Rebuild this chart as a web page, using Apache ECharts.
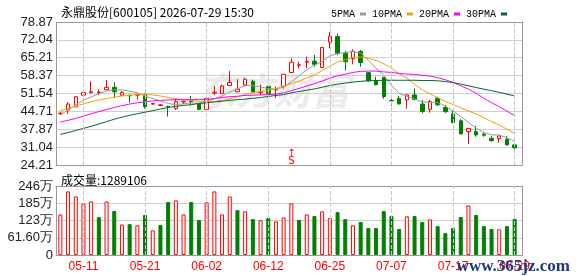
<!DOCTYPE html>
<html><head><meta charset="utf-8">
<script src="https://cdn.jsdelivr.net/npm/echarts@6/dist/echarts.min.js"></script>
<style>html,body{margin:0;padding:0;background:#fff}#c{width:578px;height:276px}</style>
</head><body><div id="c"></div>
<script>
const dates = ['05-06','05-07','05-08','05-11','05-12','05-13','05-14','05-15','05-18','05-19',
  '05-20','05-21','05-22','05-25','05-26','05-27','05-28','05-29','06-01','06-02',
  '06-03','06-04','06-05','06-08','06-09','06-10','06-11','06-12','06-15','06-16',
  '06-17','06-18','06-22','06-23','06-24','06-25','06-26','06-29','06-30','07-01',
  '07-02','07-03','07-06','07-07','07-08','07-09','07-10','07-13','07-14','07-15',
  '07-16','07-17','07-20','07-21','07-22','07-23','07-24','07-27','07-28','07-29'];
const opens = [43.8,45.2,46.5,50.9,51.9,51.9,53.0,53.9,50.9,50.9,
  50.9,51.0,47.5,47.0,46.6,45.8,48.3,48.7,47.5,45.4,
  51.7,51.6,54.6,52.2,54.8,56.2,51.9,54.3,52.9,54.2,
  59.6,62.3,63.5,63.9,61.5,71.1,73.3,66.9,64.9,67.6,
  59.5,56.5,57.7,48.9,49.6,49.1,51.0,47.5,45.5,49.7,
  46.2,43.7,41.1,36.9,37.0,36.0,34.4,34.3,34.0,31.9];
const closes = [44.0,47.5,50.3,51.9,52.2,52.1,53.9,52.2,51.9,50.7,
  51.2,46.5,47.7,47.2,46.4,48.4,48.6,48.4,45.4,49.7,
  52.0,54.4,55.8,53.2,57.0,52.3,52.2,51.6,53.1,58.9,
  63.5,62.5,63.8,62.7,69.1,73.4,66.9,63.7,67.7,63.4,
  56.4,54.9,50.3,48.7,47.6,51.0,49.3,44.7,48.5,47.2,
  44.6,40.4,36.1,38.2,35.7,35.6,33.5,35.3,31.9,30.8];
const lows = [43.3,43.7,46.3,49.3,51.7,50.9,52.9,49.9,50.5,48.0,
  49.3,45.8,47.3,46.7,42.7,45.3,47.5,46.9,45.2,45.2,
  51.0,51.4,54.4,52.0,54.2,51.8,50.9,50.8,49.7,53.4,
  59.3,61.2,61.2,61.8,61.3,68.8,66.2,60.3,62.7,61.7,
  56.1,54.6,49.5,46.8,47.2,45.7,48.9,44.0,44.2,46.8,
  44.1,40.2,35.9,32.2,35.0,35.0,33.1,32.7,31.7,28.9];
const highs = [44.5,48.2,50.5,53.1,56.2,53.1,56.7,55.9,52.5,51.0,
  51.4,51.6,48.0,47.5,46.9,49.5,48.8,50.6,47.8,49.9,
  54.4,55.0,60.1,57.0,57.6,56.8,55.0,55.0,54.1,59.0,
  65.0,63.7,65.6,66.3,69.3,75.0,74.5,67.9,68.4,68.2,
  59.8,58.0,57.9,50.9,50.6,51.3,53.5,49.0,49.1,50.3,
  47.1,45.0,41.7,38.4,39.1,36.9,35.3,35.5,35.3,31.9];
// volume in 万 shares
const volumes = [145,227,209,184,191,135,191,157,109,110,
  106,143,88,107,189,195,145,189,125,188,
  227,145,209,160,156,128,124,132,120,134,
  184,125,145,139,156,132,153,128,106,118,
  96,96,157,139,93,138,139,118,127,103,
  78,96,135.5,177,143,103,93,91.5,103,128.9106];
// 1 = up vs previous close (red), 0 = down (green)
const volUp = [1,1,1,1,1,0,1,0,1,0, 1,0,1,0,0,1,1,0,0,1, 1,1,1,0,1,0,1,0,1,1,
  1,0,1,0,1,1,0,0,1,0, 0,0,0,0,0,1,0,0,1,0, 0,0,0,1,0,0,0,1,0,0];
const ma5 = [43.4,45.2,47.2,49.0,50.2,51.5,52.5,53.0,52.9,52.4,
  51.8,50.6,49.6,48.7,47.7,47.3,47.6,47.9,47.8,48.6,
  49.4,50.6,52.1,53.3,54.6,54.5,54.1,53.4,53.2,54.0,
  56.0,58.3,60.6,62.4,63.8,65.9,66.8,67.1,67.6,67.0,
  64.2,61.2,58.5,54.7,51.6,50.5,49.5,48.3,48.2,48.1,
  46.7,44.8,42.8,40.5,38.3,36.6,35.7,35.7,34.6,33.3];
const ma10 = [45.0,45.8,46.7,47.6,48.4,49.1,49.6,50.1,50.6,50.8,
  51.2,51.2,51.0,50.6,50.0,49.6,49.2,48.9,48.5,48.3,
  48.5,49.0,49.5,50.2,51.2,51.8,52.3,52.7,53.4,54.4,
  55.3,56.3,57.5,58.6,60.3,62.0,63.5,64.4,65.3,65.5,
  65.0,64.2,62.9,61.3,59.1,57.4,55.0,53.0,51.4,49.9,
  48.5,47.3,46.0,44.9,43.7,42.3,40.8,39.5,37.9,36.3];
const ma20 = [40.6,41.3,42.0,42.9,43.8,44.6,45.4,46.2,46.9,47.5,
  48.0,48.4,48.7,48.9,49.1,49.2,49.2,49.2,49.2,49.3,
  49.6,50.0,50.3,50.5,50.8,50.9,51.0,51.1,51.3,51.8,
  52.6,53.5,54.4,55.3,56.3,57.4,58.3,58.9,59.6,60.0,
  60.1,60.1,59.8,59.6,59.2,59.0,58.8,58.5,58.2,57.6,
  56.8,55.8,54.5,53.2,51.6,49.7,48.0,46.5,44.8,43.0];
const ma30 = [35.9,36.6,37.4,38.2,39.0,39.9,40.8,41.7,42.5,43.2,
  43.8,44.4,45.0,45.6,46.2,46.6,47.0,47.3,47.7,48.0,
  48.3,48.6,48.9,49.2,49.4,49.7,50.0,50.4,50.8,51.1,
  51.8,52.3,52.8,53.3,53.9,54.6,55.1,55.5,55.9,56.2,
  56.4,56.5,56.6,56.6,56.6,56.6,56.6,56.5,56.5,56.4,
  56.1,55.7,55.1,54.5,53.8,53.2,52.6,52.0,51.3,50.6];
const priceTickLabels = ['24.21','31.04','37.87','44.71','51.54','58.37','65.21','72.04','78.87'];
const volTickLabels = ['0','61.60万','123万','185万','246万'];
const dateTickLabels = ['05-11','05-21','06-02','06-12','06-25','07-07','07-17','07-29'];
const signals = [{date:'06-17', price:27.3, text:'S'}];
const stockTitle = '永鼎股份[600105] 2026-07-29 15:30';

const priceTickValues = priceTickLabels.map(Number);
const pMin = priceTickValues[0], pMax = priceTickValues[priceTickValues.length-1];
const vMax = 246.4, vInterval = 61.6;
const UP = '#ff0000', DOWN = '#008000';
const FRAME = {show:true, onZero:false, lineStyle:{color:'#999', width:1}};
const axisFont = {fontFamily:'Liberation Sans', fontSize:13, color:'#222'};
const showDate = (i, v) => dateTickLabels.indexOf(v) >= 0;
// vertical dashed guides at the labelled dates, one carrier series per panel
const guideSeries = (xi, yi) => ({
  type:'line', name:'guide'+xi, xAxisIndex:xi, yAxisIndex:yi, data:[], z:1, silent:true,
  markLine:{
    silent:true, symbol:['none','none'], precision:0,
    label:{show:false},
    lineStyle:{color:'#c6c6c6', type:'dashed', width:1},
    data:dateTickLabels.map(d=>({xAxis:d}))
  }
});
const frameX = (g, pos) => ({type:'value', gridIndex:g, position:pos, min:0, max:1, axisLine:FRAME, axisTick:{show:false}, axisLabel:{show:false}, splitLine:{show:false}});
const frameYRight = (g, mn, mx) => ({type:'value', gridIndex:g, position:'right', min:mn, max:mx, axisLine:FRAME, axisTick:{show:false}, axisLabel:{show:false}, splitLine:{show:false}});

const chart = echarts.init(document.getElementById('c'));
chart.setOption({
  animation:false,
  backgroundColor:'#fff',
  title:[
    {text:stockTitle, left:56, top:1, textStyle:{fontFamily:'Noto Sans CJK SC', fontSize:12, fontWeight:'normal', color:'#000'}},
    {text:'成交量:' + Math.round(volumes[volumes.length-1]*10000), left:56, top:169, textStyle:{fontFamily:'Noto Sans CJK SC', fontSize:12, fontWeight:'normal', color:'#000'}}
  ],
  legend:{
    data:['5PMA','10PMA','20PMA','30PMA'], right:66, top:4, align:'right',
    icon:'rect', itemWidth:6, itemHeight:3, itemGap:6,
    textStyle:{fontFamily:'Liberation Mono', fontSize:10, color:'#000'}
  },
  graphic:[
    {type:'text', left:198, top:72, z:1, silent:true,
     style:{text:'东方财富', font:'italic bold 38px "Noto Sans CJK SC"', fill:'rgba(205,205,205,0.4)'}},
    {type:'text', right:8, bottom:1, z:100, silent:true,
     style:{text:'www.365jz.com', font:'bold 17px "Liberation Serif"', fill:'#1c3a80'}}
  ],
  grid:[
    {left:56.5, width:462, top:22, height:143, show:false},
    {left:56, right:56, top:22, height:143, show:false},
    {left:56.5, width:462, top:186, height:69, show:false},
    {left:56, right:56, top:186, height:69, show:false}
  ],
  xAxis:[
    {type:'category', gridIndex:0, data:dates, boundaryGap:true, axisLine:{show:false}, axisTick:{show:false}, axisLabel:{show:false}, splitLine:{show:false}},
    frameX(1, 'bottom'),
    {type:'category', gridIndex:2, data:dates, boundaryGap:true, axisLine:{show:false}, axisTick:{show:false},
     axisLabel:{show:true, interval:showDate, color:'#ff0000', fontFamily:'Liberation Sans', fontSize:12, margin:6}, splitLine:{show:false}},
    frameX(3, 'bottom'),
    frameX(1, 'top'),
    frameX(3, 'top')
  ],
  yAxis:[
    {type:'value', gridIndex:0, min:pMin, max:pMax, show:false},
    {type:'value', gridIndex:1, min:pMin, max:pMax, position:'left', axisLine:FRAME,
     axisTick:{show:false, customValues:priceTickValues},
     axisLabel:Object.assign({customValues:priceTickValues, margin:3,
       formatter:(v)=>{const k=priceTickValues.findIndex(t=>Math.abs(t-v)<1e-6); return k>=0?priceTickLabels[k]:'';}}, axisFont),
     splitLine:{show:true, lineStyle:{color:'#cfcfcf', width:1}}},
    {type:'value', gridIndex:2, min:0, max:vMax, show:false},
    {type:'value', gridIndex:3, min:0, max:vMax, interval:vInterval, position:'left', axisLine:FRAME, axisTick:{show:false},
     axisLabel:Object.assign({margin:3, formatter:(v,i)=>volTickLabels[i]}, axisFont),
     splitLine:{show:true, lineStyle:{color:'#cfcfcf', width:1}}},
    frameYRight(1, pMin, pMax),
    frameYRight(3, 0, vMax)
  ],
  series:[
    guideSeries(0, 0),
    guideSeries(2, 2),
    {type:'candlestick', name:'K', xAxisIndex:0, yAxisIndex:0, barWidth:4,
     data:dates.map((d,i)=>[opens[i], closes[i], lows[i], highs[i]]),
     itemStyle:{color:'#ffffff', color0:DOWN, borderColor:UP, borderColor0:DOWN, borderWidth:1},
     markPoint:{symbol:'circle', symbolSize:1, itemStyle:{color:'rgba(0,0,0,0)'},
       data:signals.map(s=>({coord:[s.date, s.price], value:s.text})),
       label:{show:true, position:'inside', formatter:(p)=>'↑\n'+p.value, color:UP, fontSize:10, lineHeight:8, fontFamily:'DejaVu Sans'}}},
    {type:'line', name:'5PMA', xAxisIndex:0, yAxisIndex:0, data:ma5, symbol:'none', color:'#999999', lineStyle:{width:1, color:'#999999'}},
    {type:'line', name:'10PMA', xAxisIndex:0, yAxisIndex:0, data:ma10, symbol:'none', color:'#f5a300', lineStyle:{width:1, color:'#f5a300'}},
    {type:'line', name:'20PMA', xAxisIndex:0, yAxisIndex:0, data:ma20, symbol:'none', color:'#ff00ff', lineStyle:{width:1, color:'#ff00ff'}},
    {type:'line', name:'30PMA', xAxisIndex:0, yAxisIndex:0, data:ma30, symbol:'none', color:'#006a2e', lineStyle:{width:1, color:'#006a2e'}},
    {type:'bar', name:'VOL', xAxisIndex:2, yAxisIndex:2, barWidth:4,
     data:volumes.map((v,i)=>({value:v, itemStyle: volUp[i]
       ? {color:'#ffffff', borderColor:UP, borderWidth:1}
       : {color:DOWN, borderColor:DOWN, borderWidth:1}}))}
  ]
});
</script></body></html>
